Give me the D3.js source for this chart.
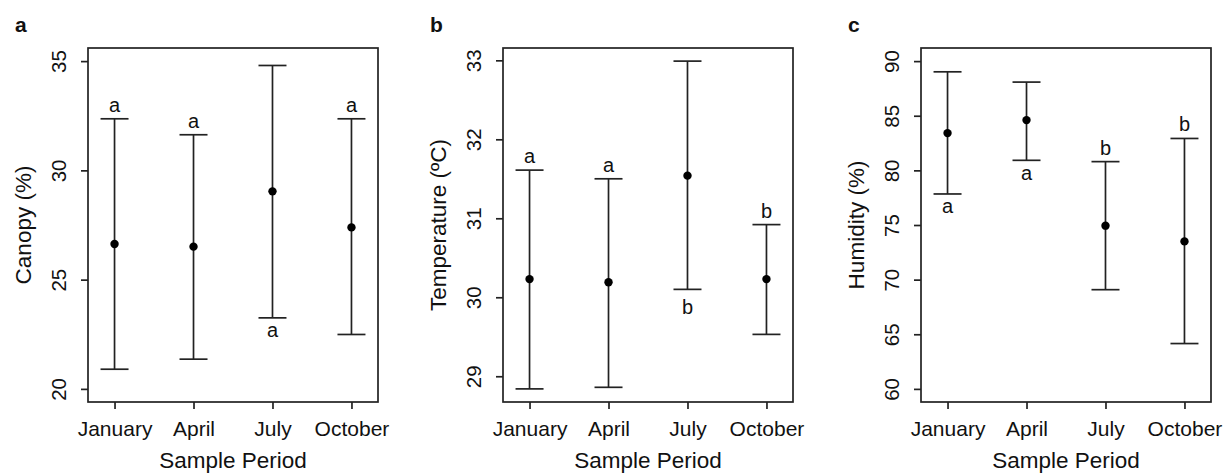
<!DOCTYPE html>
<html>
<head>
<meta charset="utf-8">
<script src="https://cdn.jsdelivr.net/npm/d3@7"></script>
<style>
  body{margin:0;background:#fff;}
  svg text{font-family:"Liberation Sans",Arial,sans-serif;fill:#111;}
</style>
</head>
<body>
<script>
// sample periods
var months = ["January","April","July","October"];

// canopy (%)
var canopyMean = [26.63, 26.51, 29.04, 27.39];
var canopyLow = [20.90, 21.36, 23.25, 22.49];
var canopyHigh = [32.36, 31.63, 34.80, 32.36];
var canopyLetters = ["a","a","a","a"];
var canopySide = ["above","above","below","above"];
var canopyTicks = [20,25,30,35];

// temperature (ºC)
var tempMean = [30.23, 30.19, 31.54, 30.23];
var tempLow = [28.84, 28.86, 30.10, 29.53];
var tempHigh = [31.61, 31.50, 32.99, 30.92];
var tempLetters = ["a","a","b","b"];
var tempSide = ["above","above","below","above"];
var tempTicks = [29,30,31,32,33];

// humidity (%)
var humMean = [83.41, 84.60, 74.94, 73.50];
var humLow = [77.84, 80.92, 69.08, 64.15];
var humHigh = [89.02, 88.08, 80.80, 82.92];
var humLetters = ["a","a","b","b"];
var humSide = ["below","below","above","above"];
var humTicks = [60,65,70,75,80,85,90];

var W = 1223, H = 473, plotTop = 48, plotBottom = 402, panelW = 290;
var ink = "#222";

var svg = d3.select("body").append("svg").attr("width",W).attr("height",H);
svg.append("rect").attr("width",W).attr("height",H).attr("fill","#fff");

// R style 4% axis padding
var pad = function(lim){
	var r = lim[1]-lim[0];
	return [lim[0]-0.04*r, lim[1]+0.04*r];
}

var panels = [
	{tag:"a", left:88, title:"Canopy (%)", ylim:[20,35], ticks:canopyTicks,
	 mean:canopyMean, low:canopyLow, high:canopyHigh, letters:canopyLetters, side:canopySide},
	{tag:"b", left:503, title:"Temperature (ºC)", ylim:[28.84,32.99], ticks:tempTicks,
	 mean:tempMean, low:tempLow, high:tempHigh, letters:tempLetters, side:tempSide},
	{tag:"c", left:921, title:"Humidity (%)", ylim:[60,90], ticks:humTicks,
	 mean:humMean, low:humLow, high:humHigh, letters:humLetters, side:humSide}
];

var drawPanel = function(p){
	var x = d3.scaleLinear().domain(pad([0.8,4.2])).range([p.left,p.left+panelW]);
	var y = d3.scaleLinear().domain(pad(p.ylim)).range([plotBottom,plotTop]);
	var g = svg.append("g");

	// y axis
	var ya = g.append("g")
		.attr("transform","translate("+p.left+",0)")
		.call(d3.axisLeft(y).tickValues(p.ticks).tickSize(7).tickFormat(d3.format("d")));
	ya.select(".domain").remove();
	ya.selectAll(".tick line").attr("stroke",ink).attr("stroke-width",1.7);
	ya.selectAll(".tick text")
		.attr("x",0).attr("dy",0)
		.attr("transform","translate(-22,0) rotate(-90)")
		.attr("text-anchor","middle")
		.style("font-size","20.5px")
		.attr("fill","#111");

	// x axis
	var xa = g.append("g")
		.attr("transform","translate(0,"+plotBottom+")")
		.call(d3.axisBottom(x).tickValues([1,2,3,4]).tickSize(7).tickFormat(function(d){return months[d-1];}));
	xa.select(".domain").remove();
	xa.selectAll(".tick line").attr("stroke",ink).attr("stroke-width",1.7);
	xa.selectAll(".tick text")
		.attr("y",34).attr("dy",0)
		.style("font-size","21px")
		.attr("fill","#111");

	// box
	g.append("rect")
		.attr("x",p.left).attr("y",plotTop)
		.attr("width",panelW).attr("height",plotBottom-plotTop)
		.attr("fill","none").attr("stroke",ink).attr("stroke-width",1.7);

	// error bars
	p.mean.forEach(function(m,i){
		var cx = x(i+1);
		g.append("line").attr("x1",cx).attr("x2",cx).attr("y1",y(p.low[i])).attr("y2",y(p.high[i]))
			.attr("stroke",ink).attr("stroke-width",1.7);
		[p.low[i],p.high[i]].forEach(function(v){
			g.append("line").attr("x1",cx-14).attr("x2",cx+14).attr("y1",y(v)).attr("y2",y(v))
				.attr("stroke",ink).attr("stroke-width",1.7);
		});
		g.append("circle").attr("cx",cx).attr("cy",y(m)).attr("r",4.2).attr("fill","#000");

		var ty;
		if(p.side[i]=="above"){
			ty = y(p.high[i]) - 7;
		}else{
			ty = y(p.low[i]) + (p.letters[i]=="b" ? 24.5 : 19.5);
		}
		g.append("text").attr("x",cx).attr("y",ty)
			.attr("text-anchor","middle")
			.style("font-size","20px")
			.text(p.letters[i]);
	});

	// titles
	g.append("text")
		.attr("transform","translate("+(p.left-57)+","+((plotTop+plotBottom)/2)+") rotate(-90)")
		.attr("text-anchor","middle")
		.style("font-size","22.5px")
		.text(p.title);
	g.append("text")
		.attr("x",p.left+panelW/2).attr("y",467.5)
		.attr("text-anchor","middle")
		.style("font-size","22.5px")
		.text("Sample Period");

	// panel tag
	g.append("text")
		.attr("x",p.left-73).attr("y",32)
		.style("font-size","21px").style("font-weight","bold")
		.text(p.tag);
}

panels.forEach(drawPanel);
</script>
</body>
</html>
